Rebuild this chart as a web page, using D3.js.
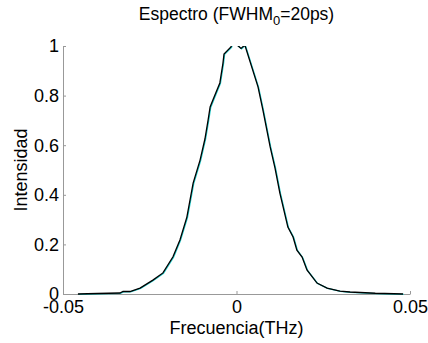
<!DOCTYPE html>
<html>
<head>
<meta charset="utf-8">
<script src="https://cdn.jsdelivr.net/npm/d3@7"></script>
<style>
  body { margin: 0; background: #fff; }
  svg { display: block; }
</style>
</head>
<body>
<div id="viz"></div>
<script>
// frequency (THz) and normalised intensity
const freq = [-0.0457, -0.040, -0.0336, -0.0327, -0.0307, -0.0278, -0.0241, -0.0212, -0.0183, -0.0163,
  -0.0143, -0.0125, -0.0105, -0.0091, -0.0082, -0.0076, -0.0068, -0.0048, -0.0039, -0.0036,
  -0.0016, -0.0007, 0.0001, 0.0013, 0.0024, 0.0062, 0.0076, 0.0097, 0.0111, 0.0125,
  0.0148, 0.0163, 0.0174, 0.0189, 0.0203, 0.0232, 0.0261, 0.0298, 0.0327, 0.040, 0.048];
const inten = [0.0, 0.002, 0.004, 0.010, 0.010, 0.024, 0.056, 0.085, 0.15, 0.218,
  0.31, 0.447, 0.54, 0.625, 0.70, 0.754, 0.782, 0.851, 0.931, 0.968,
  0.996, 1.03, 1.005, 0.99, 1.004, 0.835, 0.742, 0.593, 0.508, 0.407,
  0.27, 0.23, 0.177, 0.149, 0.097, 0.044, 0.024, 0.012, 0.008, 0.003, 0.0];
const xTicks = [-0.05, 0, 0.05];
const yTicks = [0, 0.2, 0.4, 0.6, 0.8, 1];

const width = 428, height = 343;
const margin = {top: 46, right: 18, bottom: 49, left: 63};

const x = d3.scaleLinear().domain([-0.05, 0.05]).range([margin.left, width - margin.right]);
const y = d3.scaleLinear().domain([0, 1]).range([height - margin.bottom, margin.top]);

const svg = d3.select("#viz").append("svg")
    .attr("width", width)
    .attr("height", height)
    .attr("font-family", "Liberation Sans, Arial, sans-serif");

svg.append("clipPath").attr("id", "clip")
  .append("rect")
    .attr("x", margin.left).attr("y", margin.top)
    .attr("width", width - margin.left - margin.right)
    .attr("height", height - margin.top - margin.bottom + 1);

// plain hyphen for negatives, like the original
const fmt = d => d === 0 ? "0" : String(d);

// axes
const xAxis = svg.append("g")
    .attr("transform", `translate(0,${height - margin.bottom})`)
    .call(d3.axisBottom(x).tickValues(xTicks).tickSize(-3).tickSizeOuter(0).tickFormat(fmt));
const yAxis = svg.append("g")
    .attr("transform", `translate(${margin.left},0)`)
    .call(d3.axisLeft(y).tickValues(yTicks).tickSize(-3).tickSizeOuter(0).tickFormat(fmt));

[xAxis, yAxis].forEach(a => {
  a.select(".domain").attr("stroke", "#999");
  a.selectAll(".tick line").attr("stroke", "#999");
  a.selectAll(".tick text").attr("fill", "#000").attr("font-size", 18);
});
xAxis.selectAll(".tick text").attr("dy", "0.9em").attr("y", 3);
yAxis.selectAll(".tick text").attr("x", -4).attr("dy", "0.33em");

// curve
const line = d3.line().x((d, i) => x(freq[i])).y(d => y(d));
const plot = svg.append("g").attr("clip-path", "url(#clip)");
plot.append("path")
    .datum(inten)
    .attr("fill", "none")
    .attr("stroke", "#2cc")
    .attr("stroke-width", 1.3)
    .attr("transform", "translate(0.6,0.4)")
    .attr("d", line);
plot.append("path")
    .datum(inten)
    .attr("fill", "none")
    .attr("stroke", "#000")
    .attr("stroke-width", 1.3)
    .attr("d", line);

// title
const title = svg.append("text")
    .attr("x", x(0))
    .attr("y", 20)
    .attr("text-anchor", "middle")
    .attr("font-size", 17.5);
title.append("tspan").text("Espectro (FWHM");
title.append("tspan").attr("font-size", 13).attr("dy", 5).text("0");
title.append("tspan").attr("dy", -5).text("=20ps)");

// labels
svg.append("text")
    .attr("x", x(0))
    .attr("y", 334)
    .attr("text-anchor", "middle")
    .attr("font-size", 18)
    .text("Frecuencia(THz)");

svg.append("text")
    .attr("transform", `translate(27,${y(0.5)}) rotate(-90)`)
    .attr("text-anchor", "middle")
    .attr("font-size", 18)
    .text("Intensidad");
</script>
</body>
</html>
